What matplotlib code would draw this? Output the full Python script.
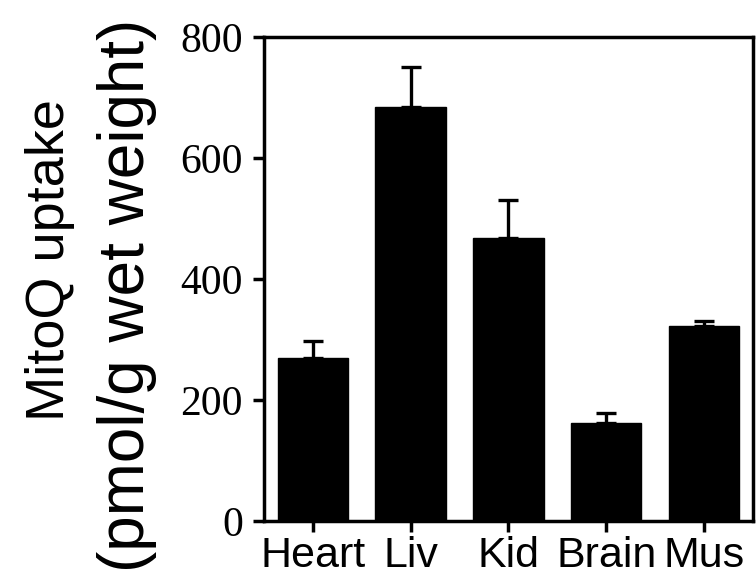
import matplotlib
matplotlib.use('Agg')
import matplotlib.pyplot as plt

# data
tissues = ['Heart', 'Liv', 'Kid', 'Brain', 'Mus']
uptake = [269, 684, 468, 162, 322]
uptake_err = [29, 66, 62, 16, 8]

fig = plt.figure(figsize=(7.56, 5.84), dpi=100)
ax = fig.add_axes([0.349, 0.108, 0.647, 0.829])

x = range(len(tissues))
ax.bar(x, uptake, width=0.72, color='black', edgecolor='black', zorder=2)
ax.errorbar(x, uptake, yerr=[[0] * len(uptake_err), uptake_err], fmt='none',
            ecolor='black', elinewidth=2.4, capsize=7.2, capthick=2.4, zorder=1)

ax.set_xlim(-0.5, len(tissues) - 0.5)
ax.set_ylim(0, 800)
ax.set_yticks([0, 200, 400, 600, 800])
ax.set_xticks(list(x))
ax.set_xticklabels(tissues, fontsize=31, family='Liberation Sans')
for lbl in ax.get_yticklabels():
    lbl.set_family('Liberation Serif')
    lbl.set_fontsize(30)

for s in ax.spines.values():
    s.set_linewidth(2.5)
ax.tick_params(axis='both', direction='out', length=8, width=2.5)
ax.tick_params(axis='y', pad=7)
ax.tick_params(axis='x', pad=3)

# two-line y label, each line placed separately
fig.text(0.066, 0.555, 'MitoQ uptake', rotation=90, ha='center', va='center',
         fontsize=39, family='Liberation Sans')
fig.text(0.168, 0.495, '(pmol/g wet weight)', rotation=90, ha='center', va='center',
         fontsize=46, family='Liberation Sans')

plt.savefig('out.png', dpi=100)
plt.close()
